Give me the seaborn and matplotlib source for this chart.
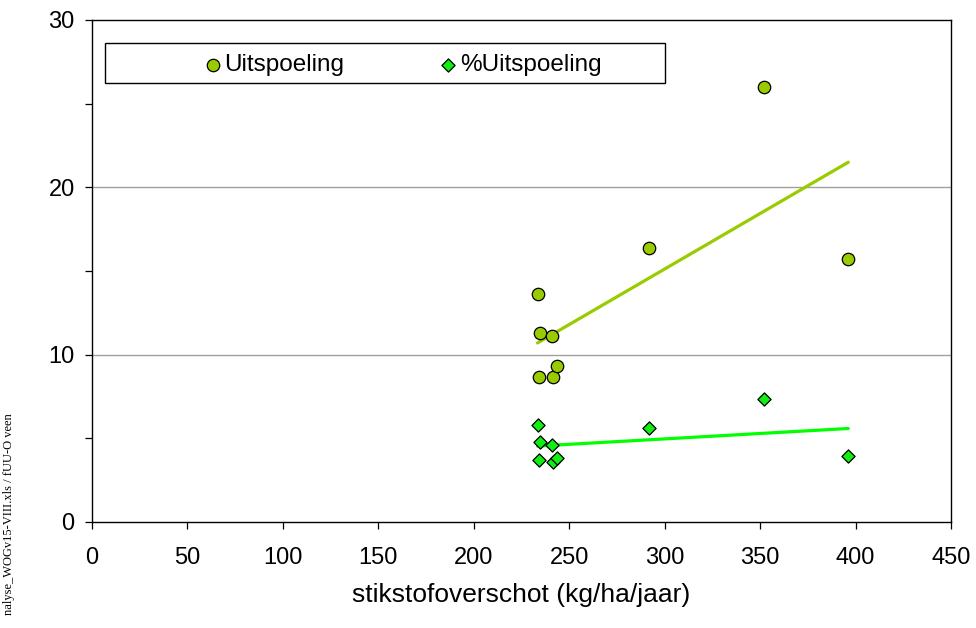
import numpy as np
import pandas as pd
import matplotlib
matplotlib.use("Agg")
import matplotlib.pyplot as plt
import seaborn as sns
from matplotlib.ticker import MultipleLocator
from matplotlib.patches import Rectangle

# stikstofoverschot (kg/ha/jaar) per perceel
overschot = [233.4, 234.8, 240.8, 234.3, 241.3, 243.7, 291.7, 352.2, 396.2]
# nitraatuitspoeling
uitspoeling = [13.6, 11.3, 11.1, 8.65, 8.65, 9.3, 16.4, 26.0, 15.7]
# uitspoeling als percentage van het overschot
pct_uitspoeling = [5.8, 4.8, 4.6, 3.7, 3.6, 3.8, 5.6, 7.35, 3.95]

df = pd.DataFrame({"overschot": overschot,
                   "Uitspoeling": uitspoeling,
                   "%Uitspoeling": pct_uitspoeling})

sns.set_theme(style="white")
plt.rcParams["font.family"] = ["Liberation Sans", "DejaVu Sans"]
plt.rcParams["text.color"] = "black"
plt.rcParams["axes.labelcolor"] = "black"

fig = plt.figure(figsize=(9.76, 6.28), dpi=100)
ax = fig.add_axes([92 / 976, 1 - 522 / 628, 859 / 976, 502 / 628])

c_uit = "#99CC00"
c_pct = "#11EE11"

sns.regplot(data=df, x="overschot", y="Uitspoeling", scatter=False, ci=None,
            truncate=True, color=c_uit, line_kws={"lw": 2.3}, ax=ax)
sns.regplot(data=df, x="overschot", y="%Uitspoeling", scatter=False, ci=None,
            truncate=True, color="#00FF00", line_kws={"lw": 2.3}, ax=ax)

sns.scatterplot(data=df, x="overschot", y="Uitspoeling", marker="o", s=80,
                color=c_uit, edgecolor="black", linewidth=0.9,
                label="Uitspoeling", ax=ax, zorder=3)
sns.scatterplot(data=df, x="overschot", y="%Uitspoeling", marker="D", s=45,
                color=c_pct, edgecolor="black", linewidth=0.9,
                label="%Uitspoeling", ax=ax, zorder=3)

ax.set_xlim(0, 450)
ax.set_ylim(0, 30)
ax.xaxis.set_major_locator(MultipleLocator(50))
ax.yaxis.set_major_locator(MultipleLocator(10))
ax.yaxis.set_minor_locator(MultipleLocator(5))
for y in (10, 20):
    ax.axhline(y, color="#a0a0a0", lw=1, zorder=0)

for sp in ax.spines.values():
    sp.set_color("black")
    sp.set_linewidth(1.0)
ax.tick_params(axis="both", which="both", direction="out", length=5,
               width=0.9, color="black", labelcolor="black", labelsize=17,
               left=True, bottom=True)
ax.tick_params(axis="x", pad=13)
ax.tick_params(axis="y", pad=7.5)

ax.set_xlabel("stikstofoverschot (kg/ha/jaar)", fontsize=19, labelpad=10)
ax.set_ylabel("")

# legend box as in the original sheet
fig.add_artist(Rectangle((105 / 976, 1 - 83 / 628), 560 / 976, 40 / 628,
                         transform=fig.transFigure, fill=False,
                         edgecolor="black", lw=1.0, zorder=4))
leg = ax.legend(ncol=2, loc="center left",
                bbox_to_anchor=((189 - 92) / 859, (522 - 65) / 502),
                frameon=False, fontsize=17.5, handletextpad=0.0,
                borderpad=0.0, markerscale=1.0, columnspacing=3.8,
                handlelength=0.95)

fig.text(0.009, 0.02, "nalyse_WOGv15-VIII.xls / fUU-O veen", rotation=90,
         family=["Liberation Serif", "DejaVu Serif"], fontsize=9,
         ha="center", va="bottom")

fig.savefig("out.png", dpi=100)
